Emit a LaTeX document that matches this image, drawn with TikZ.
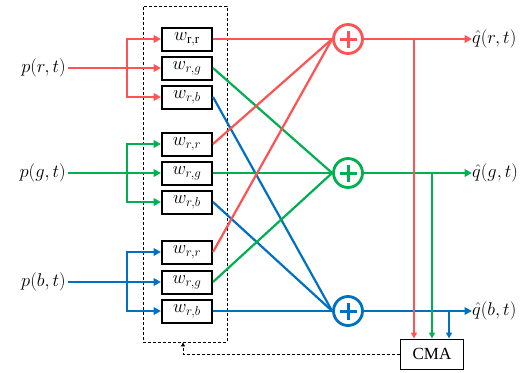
\documentclass[tikz,border=0pt]{standalone}
\usepackage{fix-cm}
\usepackage{fontspec}
\setmainfont{Liberation Serif}
\usetikzlibrary{arrows.meta}
\definecolor{cr}{RGB}{255,82,82}
\definecolor{cg}{RGB}{0,176,80}
\definecolor{cb}{RGB}{0,112,192}
\begin{document}
\begin{tikzpicture}[x=1pt,y=-1pt,
  wbox/.style={draw, line width=2pt, fill=white, minimum width=50pt, minimum height=23pt,
    inner sep=0pt, font=\fontsize{18.5}{20}\selectfont},
  sum/.style={circle, draw, line width=2.8pt, minimum size=29pt, inner sep=0pt},
  sig/.style={line width=2.2pt, line join=miter},
  tip/.style={-{Triangle[length=7.5pt,width=7.5pt]}},
  tips/.style={{Triangle[length=7.5pt,width=7.5pt]}-{Triangle[length=7.5pt,width=7.5pt]}},
  smalltip/.style={-{Triangle[length=6pt,width=6pt]}},
  lbl/.style={inner sep=0pt, font=\fontsize{18.5}{21}\selectfont},
  plusbar/.style={line width=3pt}]
\useasboundingbox (0,0) rectangle (532,372);

% dashed frame around the weight bank
\node[draw, dashed, line width=0.9pt, dash pattern=on 3pt off 2pt,
  minimum width=84pt, minimum height=336pt, inner sep=0pt] (frame) at (185,174) {};

% weight boxes
\node[wbox] (w1) at (187,39)  {$w_{\mathrm{r,r}}$};
\node[wbox] (w2) at (187,68)  {$w_{r,g}$};
\node[wbox] (w3) at (187,97)  {$w_{r,b}$};
\node[wbox] (w4) at (187,144) {$w_{r,r}$};
\node[wbox] (w5) at (187,173) {$w_{r,g}$};
\node[wbox] (w6) at (187,202) {$w_{r,b}$};
\node[wbox] (w7) at (187,252) {$w_{r,r}$};
\node[wbox] (w8) at (187,282) {$w_{r,g}$};
\node[wbox] (w9) at (187,311) {$w_{r,b}$};

% inputs
\node[lbl, anchor=east] (pr) at (66,68)  {$p(r,t)$};
\node[lbl, anchor=east] (pg) at (66,173) {$p(g,t)$};
\node[lbl, anchor=east] (pb) at (66,282) {$p(b,t)$};
\coordinate (br) at (127,68);
\coordinate (bg) at (127,173);
\coordinate (bb) at (127,282);

\draw[sig, cr, tip] (pr.east) ++(2,0) -- (w2.west);
\draw[sig, cr, tips] (w1.west) -- (br |- w1.west) -- (br |- w3.west) -- (w3.west);
\draw[sig, cg, tip] (pg.east) ++(2,0) -- (w5.west);
\draw[sig, cg, tips] (w4.west) -- (bg |- w4.west) -- (bg |- w6.west) -- (w6.west);
\draw[sig, cb, tip] (pb.east) ++(2,0) -- (w8.west);
\draw[sig, cb, tips] (w7.west) -- (bb |- w7.west) -- (bb |- w9.west) -- (w9.west);

% summing junctions
\node[sum, draw=cr] (sr) at (348,39)  {};
\node[sum, draw=cg] (sg) at (348,173) {};
\node[sum, draw=cb] (sb) at (348,311) {};
\foreach \s/\c in {sr/cr, sg/cg, sb/cb}{
  \draw[plusbar, \c] ([xshift=-8.5pt]\s.center) -- ([xshift=8.5pt]\s.center);
  \draw[plusbar, \c] ([yshift=-8.5pt]\s.center) -- ([yshift=8.5pt]\s.center);
}

% weighted paths into the sums
\draw[sig, cb] (w3.east) -- (sb.west);
\draw[sig, cb] (w6.east) -- (sb.west);
\draw[sig, cb] (w9.east) -- (sb.west);
\draw[sig, cg] (w2.east) -- (sg.west);
\draw[sig, cg] (w5.east) -- (sg.west);
\draw[sig, cg] (w8.east) -- (sg.west);
\draw[sig, cr] (w1.east) -- (sr.west);
\draw[sig, cr] (w4.east) -- (sr.west);
\draw[sig, cr] (w7.east) -- (sr.west);

% outputs
\node[lbl, anchor=west] (qr) at (472,39)  {$\hat{q}(r,t)$};
\node[lbl, anchor=west] (qg) at (472,173) {$\hat{q}(g,t)$};
\node[lbl, anchor=west] (qb) at (472,311) {$\hat{q}(b,t)$};
\draw[sig, cr, tip] (sr.east) -- (qr.west);
\draw[sig, cg, tip] (sg.east) -- (qg.west);
\draw[sig, cb, tip] (sb.east) -- (qb.west);

% constant modulus algorithm block
\node[draw, line width=1pt, minimum width=63pt, minimum height=30pt, inner sep=0pt,
  font=\fontsize{17}{19}\selectfont] (cma) at (432,354) {CMA};
\coordinate (tr) at (414,39);
\coordinate (tg) at (432,173);
\coordinate (tb) at (449,311);
\draw[sig, cr, smalltip] (tr) -- (tr |- cma.north);
\draw[sig, cg, smalltip] (tg) -- (tg |- cma.north);
\draw[sig, cb, smalltip] (tb) -- (tb |- cma.north);

% weight update feedback
\coordinate (fb) at (183,354);
\draw[line width=0.9pt, dash pattern=on 3pt off 2pt, -{Triangle[length=4pt,width=4pt]}]
  (cma.west) -- (fb) -- (fb |- frame.south);
\end{tikzpicture}
\end{document}
